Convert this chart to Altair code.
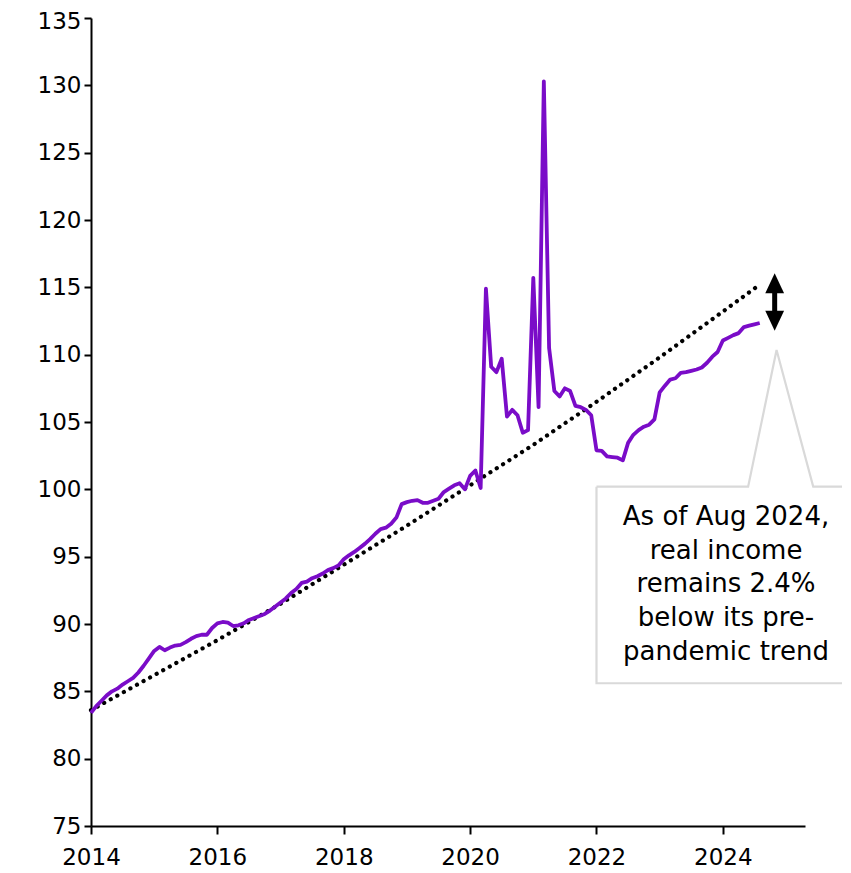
import altair as alt
import pandas as pd

# ---------------- data ----------------
start_year = 2014  # first month: Jan 2014, monthly to Aug 2024
real_income = [
    83.4, 83.9, 84.3, 84.7, 85.0, 85.2, 85.5, 85.75, 86.0, 86.4, 86.9, 87.45,
    88.0, 88.3, 88.05, 88.25, 88.4, 88.45, 88.65, 88.9, 89.1, 89.2, 89.2, 89.7,
    90.05, 90.15, 90.1, 89.85, 89.9, 90.05, 90.3, 90.45, 90.6, 90.75, 91.0, 91.3,
    91.6, 91.9, 92.3, 92.6, 93.05, 93.15, 93.4, 93.55, 93.75, 94.0, 94.15, 94.35,
    94.8, 95.1, 95.35, 95.65, 95.95, 96.3, 96.7, 97.05, 97.15, 97.45, 97.9, 98.9,
    99.05, 99.15, 99.2, 99.0, 99.0, 99.15, 99.3, 99.8, 100.05, 100.3, 100.45, 100.0,
    101.0, 101.4, 100.1, 114.9, 109.1, 108.7, 109.7, 105.4, 105.9, 105.5, 104.2, 104.4,
    115.7, 106.1, 130.3, 110.5, 107.3, 106.9, 107.5, 107.3, 106.2, 106.1, 105.9, 105.5,
    102.9, 102.85, 102.45, 102.4, 102.35, 102.15, 103.45, 104.05, 104.4, 104.65, 104.8, 105.2,
    107.2, 107.7, 108.15, 108.25, 108.65, 108.7, 108.8, 108.9, 109.05, 109.4, 109.85, 110.2,
    111.05, 111.25, 111.45, 111.6, 112.05, 112.15, 112.25, 112.35,
]

# pre-pandemic trend (dotted), read at each January and at Aug 2024
trend_t = [2014, 2015, 2016, 2017, 2018, 2019, 2020, 2021, 2022, 2023, 2024, 2024 + 7 / 12]
trend_v = [83.6, 86.2, 88.8, 91.5, 94.4, 97.3, 100.3, 103.3, 106.5, 109.8, 113.2, 115.2]

x_ticks = [2014, 2016, 2018, 2020, 2022, 2024]
y_ticks = [75, 80, 85, 90, 95, 100, 105, 110, 115, 120, 125, 130, 135]

annotation_lines = ["As of Aug 2024,", "real income", "remains 2.4%", "below its pre-", "pandemic trend"]
annotation_anchor = {"t": 2024.05, "v": 97.35}

# callout outline (box + pointer), in data units
callout_t = [2022.0, 2024.40, 2024.85, 2025.43, 2026.4, 2026.4, 2022.0, 2022.0]
callout_v = [100.2, 100.2, 110.35, 100.2, 100.2, 85.6, 85.6, 100.2]

# double arrow marking the gap
arrow_t = 2024.82
arrow_top = 116.04
arrow_bottom = 111.78

# ---------------- chart ----------------
FONT = "DejaVu Sans"
PURPLE = "#7A0CC8"

df = pd.DataFrame({"t": [start_year + i / 12 for i in range(len(real_income))], "v": real_income})
tr = pd.DataFrame({"t": trend_t, "v": trend_v})
co = pd.DataFrame({"t": callout_t, "v": callout_v, "o": list(range(len(callout_t)))})
txt = pd.DataFrame([{"t": annotation_anchor["t"], "v": annotation_anchor["v"], "text": annotation_lines}])
arr_shaft = pd.DataFrame([{"t": arrow_t, "v": arrow_bottom + 1.0, "v2": arrow_top - 1.0}])
arr_up = pd.DataFrame([{"t": arrow_t, "v": arrow_top}])
arr_down = pd.DataFrame([{"t": arrow_t, "v": arrow_bottom}])

x_scale = alt.Scale(domain=[2014, 2025.3], nice=False, zero=False)
y_scale = alt.Scale(domain=[75, 135], nice=False, zero=False)

x_axis = alt.Axis(
    values=x_ticks, format="d", title=None, grid=False, labelFlush=False,
    domainColor="black", domainWidth=2, tickColor="black", tickWidth=2, tickSize=8,
    labelFont=FONT, labelFontSize=23, labelColor="black", labelPadding=12,
)
y_axis = alt.Axis(
    values=y_ticks, title=None, grid=False, labelFlush=False,
    domainColor="black", domainWidth=2, tickColor="black", tickWidth=2, tickSize=7,
    labelFont=FONT, labelFontSize=23, labelColor="black", labelPadding=3,
    labelOffset={"condition": {"test": "datum.value == 135", "value": 3}, "value": 0},
)

X = alt.X("t:Q", scale=x_scale, axis=x_axis)
Y = alt.Y("v:Q", scale=y_scale, axis=y_axis)

callout = alt.Chart(co).mark_line(color="#d9d9d9", strokeWidth=2.2, strokeJoin="miter").encode(
    x=X, y=Y, order="o:Q"
)

trend = alt.Chart(tr).mark_line(
    color="black", strokeWidth=4.2, strokeDash=[0.1, 7.4], strokeCap="round"
).encode(x=X, y=Y)

line = alt.Chart(df).mark_line(color=PURPLE, strokeWidth=3.8, strokeJoin="round").encode(x=X, y=Y)

label = alt.Chart(txt).mark_text(
    font=FONT, fontSize=26, color="black", align="center", baseline="alphabetic", lineHeight=33.7
).encode(x=X, y=Y, text="text")

shaft = alt.Chart(arr_shaft).mark_rule(color="black", strokeWidth=5).encode(
    x=X, y=Y, y2="v2:Q"
)
head_up = alt.Chart(arr_up).mark_point(
    shape="M0,0L-0.47,1L0.47,1Z", filled=True, color="black", opacity=1, size=1600, strokeWidth=0
).encode(x=X, y=Y)
head_down = alt.Chart(arr_down).mark_point(
    shape="M0,0L-0.47,-1L0.47,-1Z", filled=True, color="black", opacity=1, size=1600, strokeWidth=0
).encode(x=X, y=Y)

chart = (
    alt.layer(callout, trend, line, label, shaft, head_up, head_down)
    .properties(
        width=714, height=808,
        autosize=alt.AutoSizeParams(type="none"),
        padding={"left": 83, "top": 10, "right": 37, "bottom": 46},
        background="white",
    )
    .configure_view(stroke=None)
)

chart.save("out.html", embed_options={"renderer": "svg", "actions": False})
